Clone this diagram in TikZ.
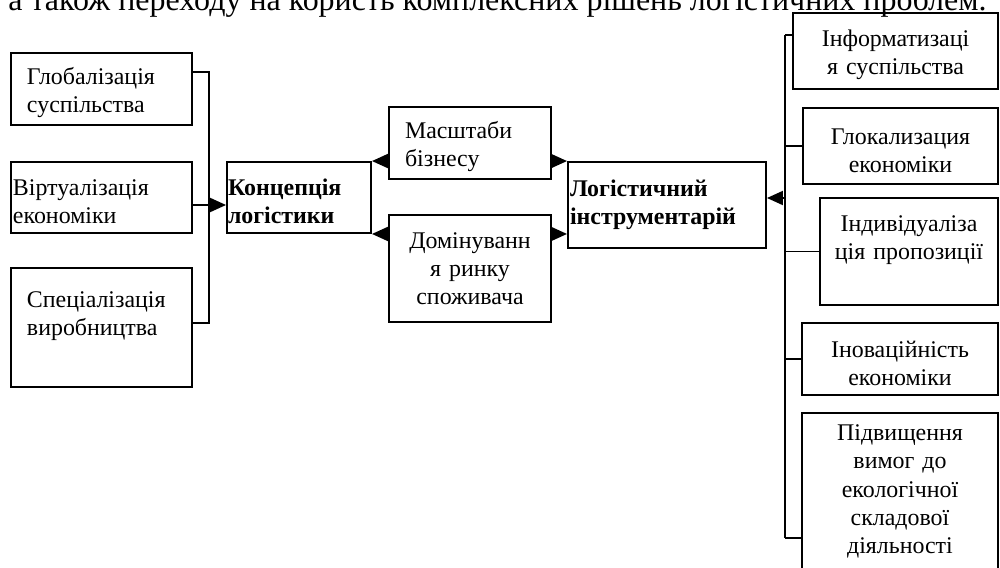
\documentclass[tikz,border=0pt]{standalone}
\usepackage{fontspec}
\setmainfont{Liberation Serif}
\usepackage{tikz}
\usetikzlibrary{arrows.meta}

\newcommand{\boxfont}{\fontsize{13.6}{16}\selectfont}

\begin{document}
\begin{tikzpicture}[
    box/.style={rectangle, draw, line width=1.1pt, inner sep=0pt, font=\boxfont},
    lbox/.style={box, align=left},
    cbox/.style={box, align=center},
    low/.style={execute at begin node={\rule{0pt}{14pt}}},
    link/.style={line width=1.1pt},
    arr/.style={link, -{Triangle[length=0.32cm, width=0.28cm]}}
]
\clip (0,0) rectangle (20,-11.34);

% Text line above the scheme
\node[anchor=base west, inner sep=0pt, font=\fontsize{18.2}{21}\selectfont] (caption) at (0.16,-0.20)
    {а також переходу на користь комплексних рішень логістичних проблем.};

% Factors on the left
\node[lbox, low, minimum width=3.62cm, minimum height=1.44cm, inner xsep=0.32cm, text width=2.98cm] (glob) at (2.03,-1.78) {Глобалізація\\суспільства};
\node[lbox, low, minimum width=3.62cm, minimum height=1.42cm, inner xsep=0.04cm, text width=3.54cm] (virt) at (2.03,-3.95) {Віртуалізація\\економіки};
\node[lbox, minimum width=3.62cm, minimum height=2.38cm, inner xsep=0.32cm, text width=2.98cm] (spec) at (2.03,-6.55) {Спеціалізація\\виробництва\\\mbox{}};

% Concept and tools
\node[lbox, low, minimum width=2.88cm, minimum height=1.42cm, inner xsep=0.02cm, text width=2.84cm, font=\boxfont\bfseries] (konc) at (5.98,-3.95) {Концепція\\логістики};
\node[lbox, low, minimum width=3.24cm, minimum height=1.44cm, inner xsep=0.32cm, text width=2.60cm] (masht) at (9.40,-2.86) {Масштаби\\бізнесу};
\node[cbox, minimum width=3.24cm, minimum height=2.14cm, text width=3.10cm] (domin) at (9.40,-5.37) {Домінуванн\\я ринку\\споживача};
\node[lbox, minimum width=3.96cm, minimum height=1.72cm, inner xsep=0.04cm, text width=3.88cm, font=\boxfont\bfseries] (logist) at (13.34,-4.10) {Логістичний\\інструментарій};

% Factors on the right
\node[cbox, low, minimum width=4.10cm, minimum height=1.52cm, text width=4.0cm] (inform) at (17.91,-1.02) {Інформатизаці\\я суспільства};
\node[cbox, low, minimum width=3.90cm, minimum height=1.52cm, text width=3.8cm] (glok) at (18.01,-2.92) {Глокализация\\економіки};
\node[cbox, minimum width=3.56cm, minimum height=2.14cm, text width=3.46cm] (indiv) at (18.18,-5.03) {Індивідуаліза\\ція пропозиції\\\mbox{}};
\node[cbox, low, minimum width=3.92cm, minimum height=1.44cm, text width=3.82cm] (inov) at (18.00,-7.18) {Іноваційність\\економіки};
\node[cbox, minimum width=3.92cm, minimum height=3.14cm, text width=3.82cm] (pidv) at (18.00,-9.83) {Підвищення\\вимог до\\екологічної\\складової\\діяльності};

% Left bus
\coordinate (lbus) at (4.18,-4.10);
\draw[link] (glob.east |- 0,-1.44) -| (lbus) |- (spec.east |- 0,-6.46);
\draw[link] (virt.east |- lbus) -- (lbus);
\draw[arr] (lbus) -- (konc.west |- lbus);

% Middle arrows
\draw[arr] (masht.west |- konc.north) -- (konc.north east);
\draw[arr] (domin.west |- konc.south) -- (konc.south east);
\draw[arr] (masht.east |- logist.north) -- (logist.north west);
\draw[arr] (domin.east |- konc.south) -- (logist.west |- konc.south);

% Right bus
\coordinate (rtop) at (15.70,-0.70);
\coordinate (rbot) at (15.70,-10.76);
\coordinate (rmid) at (15.70,-3.96);
\draw[link] (rtop) -- (rbot);
\draw[link] (rtop) -- (inform.west |- rtop);
\draw[link] (glok.west -| rtop) -- (glok.west);
\draw[link] (indiv.west -| rtop) -- (indiv.west);
\draw[link] (inov.west -| rtop) -- (inov.west);
\draw[link] (rbot) -- (pidv.west |- rbot);
\draw[arr] (rmid) -- (logist.east |- rmid);

\end{tikzpicture}
\end{document}
